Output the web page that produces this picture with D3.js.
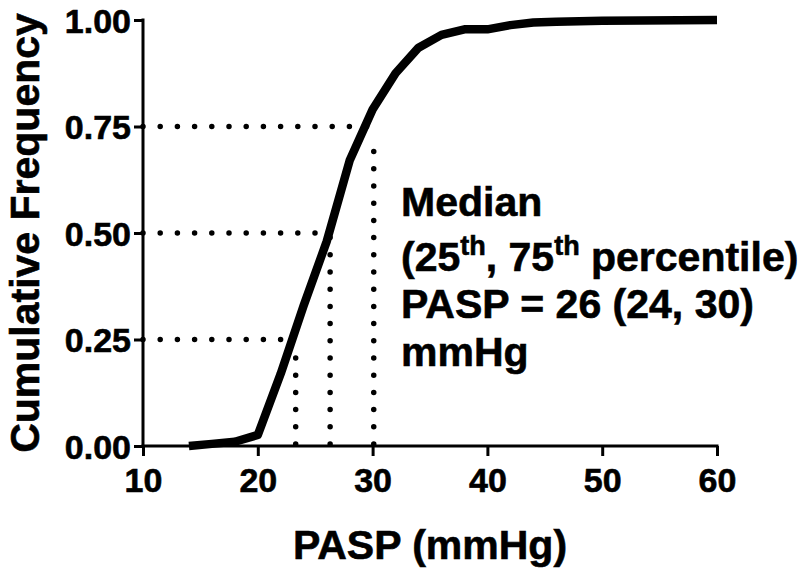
<!DOCTYPE html>
<html>
<head>
<meta charset="utf-8">
<script src="https://cdn.jsdelivr.net/npm/d3@7"></script>
<style>
  html, body { margin: 0; padding: 0; background: #fff; }
  svg { display: block; font-family: "Liberation Sans", Arial, sans-serif; font-weight: bold; }
</style>
</head>
<body>
<svg id="chart" width="800" height="572"></svg>
<script>
// ---- data ----
const pasp = [14, 16, 18, 20, 22, 24, 26, 28, 30, 32, 34, 36, 38, 40, 42, 44, 46, 50, 60];
const cumFreq = [0, 0.005, 0.01, 0.026, 0.17, 0.33, 0.48, 0.67, 0.79, 0.875, 0.935, 0.965, 0.978, 0.978, 0.988, 0.994, 0.996, 0.998, 1.0];
const quantileLevels = [0.25, 0.5, 0.75];
const quantileValues = [23.3, 26.3, 30.1];
const quantileTops = [0.21, 0.49, 0.73];
const xTicks = [10, 20, 30, 40, 50, 60];
const yTicks = [0, 0.25, 0.5, 0.75, 1.0];
const xTitle = "PASP (mmHg)";
const yTitle = "Cumulative Frequency";

// ---- layout ----
const svg = d3.select("#chart");
const x = d3.scaleLinear().domain([10, 60]).range([143, 717]);
const y = d3.scaleLinear().domain([0, 1]).range([446, 20]);
const FONT = "'Liberation Sans', Arial, sans-serif";

// axes
const xAxis = d3.axisBottom(x).tickValues(xTicks).tickSize(10).tickPadding(5).tickFormat(d3.format("d"));
const yAxis = d3.axisLeft(y).tickValues(yTicks).tickSize(9).tickPadding(3).tickFormat(d3.format(".2f"));

const gx = svg.append("g").attr("transform", `translate(0,${y(0)})`).call(xAxis);
const gy = svg.append("g").attr("transform", `translate(${x(10)},0)`).call(yAxis);

[gx, gy].forEach(g => {
  g.select(".domain").attr("stroke", "#000").attr("stroke-width", 3).attr("stroke-linecap", "square");
  g.selectAll(".tick line").attr("stroke", "#000").attr("stroke-width", 3);
  g.selectAll(".tick text").attr("fill", "#000").attr("font-size", 34).attr("font-weight", "bold")
    .attr("font-family", FONT).attr("stroke", "#000").attr("stroke-width", 0.6);
});
gx.select(".domain").attr("d", `M${x(10)},0H${x(60)}`);
gy.select(".domain").attr("d", `M0,${y(1)}V${y(0)}`);
gx.selectAll(".tick text").attr("dy", "0.9em");
gy.selectAll(".tick text").attr("dy", "0.36em");

// dotted guide lines
const dotted = svg.append("g")
  .attr("stroke", "#000").attr("stroke-width", 5.5)
  .attr("stroke-linecap", "round").attr("stroke-dasharray", "0,17.2").attr("fill", "none");

quantileLevels.forEach((lvl, i) => {
  dotted.append("line")
    .attr("x1", x(10)).attr("y1", y(lvl))
    .attr("x2", x(quantileValues[i]) - 4).attr("y2", y(lvl));
  dotted.append("line")
    .attr("x1", x(quantileValues[i])).attr("y1", y(0) - 2)
    .attr("x2", x(quantileValues[i])).attr("y2", y(quantileTops[i]));
});

// curve
const pts = pasp.map((v, i) => [v, cumFreq[i]]);
svg.append("path")
  .datum(pts)
  .attr("fill", "none")
  .attr("stroke", "#000")
  .attr("stroke-width", 8.5)
  .attr("stroke-linejoin", "round")
  .attr("d", d3.line().x(d => x(d[0])).y(d => y(d[1])));

// annotation
const ann = svg.append("text").attr("font-size", 41).attr("fill", "#000")
  .attr("stroke", "#000").attr("stroke-width", 0.6);
ann.append("tspan").attr("x", 401).attr("y", 216).text("Median");
const l2 = ann.append("tspan").attr("x", 401).attr("y", 271);
l2.append("tspan").text("(25");
l2.append("tspan").attr("font-size", 27).attr("dy", -16).text("th");
l2.append("tspan").attr("dy", 16).text(", 75");
l2.append("tspan").attr("font-size", 27).attr("dy", -16).text("th");
l2.append("tspan").attr("dy", 16).text(" percentile)");
ann.append("tspan").attr("x", 401).attr("y", 318).text("PASP = 26 (24, 30)");
ann.append("tspan").attr("x", 401).attr("y", 366).text("mmHg");

// axis titles
svg.append("text")
  .attr("x", 430).attr("y", 559)
  .attr("text-anchor", "middle").attr("font-size", 41).attr("fill", "#000")
  .attr("stroke", "#000").attr("stroke-width", 0.6)
  .text(xTitle);
svg.append("text")
  .attr("transform", `translate(39,${y(0.5)}) rotate(-90)`)
  .attr("text-anchor", "middle").attr("font-size", 41).attr("fill", "#000")
  .attr("stroke", "#000").attr("stroke-width", 0.6)
  .text(yTitle);
</script>
</body>
</html>
